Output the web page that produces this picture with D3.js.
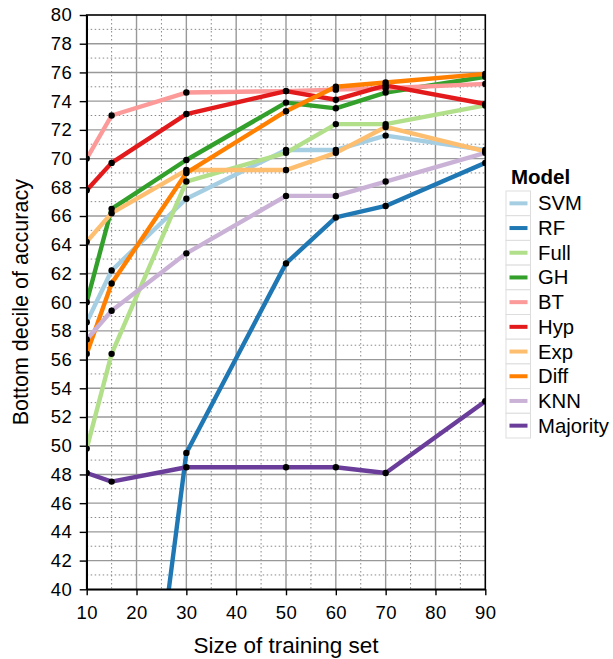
<!DOCTYPE html>
<html lang="en">
<head>
<meta charset="UTF-8">
<title>Bottom decile of accuracy</title>
<script src="https://cdnjs.cloudflare.com/ajax/libs/d3/7.8.5/d3.min.js"></script>
<style>
  body { margin: 0; background: #fff; }
  text { font-family: "Liberation Sans", Arial, sans-serif; }
</style>
</head>
<body>
<svg width="613" height="659"></svg>
<script>
    // training set sizes
    const trainSizes = [10, 15, 30, 50, 60, 70, 90];
    const modelNames = ["SVM", "RF", "Full", "GH", "BT", "Hyp", "Exp", "Diff", "KNN", "Majority"];
    const modelColors = ["#a6cee3", "#1f78b4", "#b2df8a", "#33a02c", "#fb9a99",
                         "#e31a1c", "#fdbf6f", "#ff7f00", "#cab2d6", "#6a3d9a"];

    const svmValues      = [58.6, 62.2, 67.2, 70.6, 70.6, 71.6, 70.6];
    const rfValues       = [6.0, 9.0, 49.5, 62.7, 65.9, 66.7, 69.7];
    const fullValues     = [49.8, 56.4, 68.4, 70.4, 72.4, 72.4, 73.7];
    const ghValues       = [60.0, 66.5, 69.9, 73.9, 73.5, 74.6, 75.7];
    const btValues       = [70.0, 73.0, 74.6, 74.7, 74.8, 74.9, 75.2];
    const hypValues      = [67.8, 69.7, 73.1, 74.7, 74.1, 75.1, 73.8];
    const expValues      = [64.2, 66.2, 69.2, 69.2, 70.4, 72.2, 70.5];
    const diffValues     = [56.4, 61.3, 69.0, 73.3, 75.0, 75.3, 75.9];
    const knnValues      = [57.4, 59.4, 63.4, 67.4, 67.4, 68.4, 70.4];
    const majorityValues = [48.1, 47.5, 48.5, 48.5, 48.5, 48.1, 53.1];

    const xTicks = d3.range(10, 91, 10);
    const yTicks = d3.range(40, 81, 2);

    const allSeries = [svmValues, rfValues, fullValues, ghValues, btValues,
                       hypValues, expValues, diffValues, knnValues, majorityValues];

    const margin = {left: 86.7, right: 485.3, top: 15, bottom: 589.3};
    const svg = d3.select("svg");

    const xScale = d3.scaleLinear().domain([10, 90]).range([margin.left, margin.right]);
    const yScale = d3.scaleLinear().domain([40, 80]).range([margin.bottom, margin.top]);

    // grid lines
    const grid = svg.append("g");
    grid.selectAll(".minorY").data(d3.range(41, 80, 2)).enter().append("line")
        .attr("x1", margin.left).attr("x2", margin.right)
        .attr("y1", d => yScale(d)).attr("y2", d => yScale(d))
        .attr("stroke", "#888").attr("stroke-width", 1).attr("stroke-dasharray", "1.5,2.5");
    grid.selectAll(".minorX").data(d3.range(15, 90, 10)).enter().append("line")
        .attr("y1", margin.top).attr("y2", margin.bottom)
        .attr("x1", d => xScale(d)).attr("x2", d => xScale(d))
        .attr("stroke", "#888").attr("stroke-width", 1).attr("stroke-dasharray", "1.5,2.5");
    grid.selectAll(".majorY").data(yTicks.slice(1, -1)).enter().append("line")
        .attr("x1", margin.left).attr("x2", margin.right)
        .attr("y1", d => yScale(d)).attr("y2", d => yScale(d))
        .attr("stroke", "#999").attr("stroke-width", 1.4);
    grid.selectAll(".majorX").data(xTicks.slice(1, -1)).enter().append("line")
        .attr("y1", margin.top).attr("y2", margin.bottom)
        .attr("x1", d => xScale(d)).attr("x2", d => xScale(d))
        .attr("stroke", "#999").attr("stroke-width", 1.4);

    svg.append("clipPath").attr("id", "plotClip").append("rect")
        .attr("x", margin.left).attr("y", margin.top)
        .attr("width", margin.right - margin.left).attr("height", margin.bottom - margin.top);

    const lineGen = d3.line()
        .x((d, i) => xScale(trainSizes[i]))
        .y(d => yScale(d));

    const plot = svg.append("g").attr("clip-path", "url(#plotClip)");
    allSeries.forEach((values, k) => {
        plot.append("path")
            .attr("d", lineGen(values))
            .attr("fill", "none")
            .attr("stroke", modelColors[k])
            .attr("stroke-width", 4.4)
            .attr("stroke-linejoin", "round");
    });
    allSeries.forEach(values => {
        const pts = values.map((v, i) => ({x: trainSizes[i], y: v})).filter(p => p.y >= 40);
        plot.selectAll(null)
            .data(pts)
            .enter()
            .append("circle")
            .attr("cx", d => xScale(d.x))
            .attr("cy", d => yScale(d.y))
            .attr("r", 3.2)
            .attr("fill", "black");
    });

    // frame
    svg.append("rect")
        .attr("x", margin.left).attr("y", margin.top)
        .attr("width", margin.right - margin.left).attr("height", margin.bottom - margin.top)
        .attr("fill", "none").attr("stroke", "black").attr("stroke-width", 1.6);

    const xAxis = svg.append("g")
        .attr("transform", `translate(0,${margin.bottom})`)
        .call(d3.axisBottom(xScale).tickValues(xTicks).tickSize(6).tickSizeOuter(0).tickPadding(10.5));
    const yAxis = svg.append("g")
        .attr("transform", `translate(${margin.left},0)`)
        .call(d3.axisLeft(yScale).tickValues(yTicks).tickSize(7).tickSizeOuter(0).tickPadding(7.5));
    [xAxis, yAxis].forEach(ax => {
        ax.select(".domain").attr("stroke-width", 1.6);
        ax.selectAll(".tick line").attr("stroke-width", 1.4);
        ax.selectAll("text").attr("font-size", 18.5).attr("fill", "black")
            .attr("letter-spacing", 0.4)
            .attr("font-family", "Liberation Sans, Arial, sans-serif");
    });

    svg.append("text")
        .attr("x", (margin.left + margin.right) / 2).attr("y", 653)
        .attr("text-anchor", "middle").attr("font-size", 22.5)
        .text("Size of training set");
    svg.append("text")
        .attr("transform", `translate(28,${(margin.top + margin.bottom) / 2}) rotate(-90)`)
        .attr("text-anchor", "middle").attr("font-size", 21.5)
        .text("Bottom decile of accuracy");

    // legend
    const legend = svg.append("g").attr("transform", "translate(506,191)");
    legend.append("text").attr("x", 5).attr("y", -7)
        .attr("font-size", 20.5).attr("font-weight", "bold").text("Model");
    const rowH = 24.7;
    const rows = legend.selectAll(".row").data(modelNames).enter().append("g")
        .attr("transform", (d, i) => `translate(0,${i * rowH})`);
    rows.append("rect")
        .attr("width", 24.5).attr("height", rowH)
        .attr("fill", "white").attr("stroke", "#ddd").attr("stroke-width", 1);
    rows.append("line")
        .attr("x1", 3.5).attr("x2", 21.5)
        .attr("y1", rowH / 2).attr("y2", rowH / 2)
        .attr("stroke", (d, i) => modelColors[i]).attr("stroke-width", 4);
    rows.append("text")
        .attr("x", 32).attr("y", rowH / 2 + 7)
        .attr("font-size", 20.3).text(d => d);
</script>
</body>
</html>
